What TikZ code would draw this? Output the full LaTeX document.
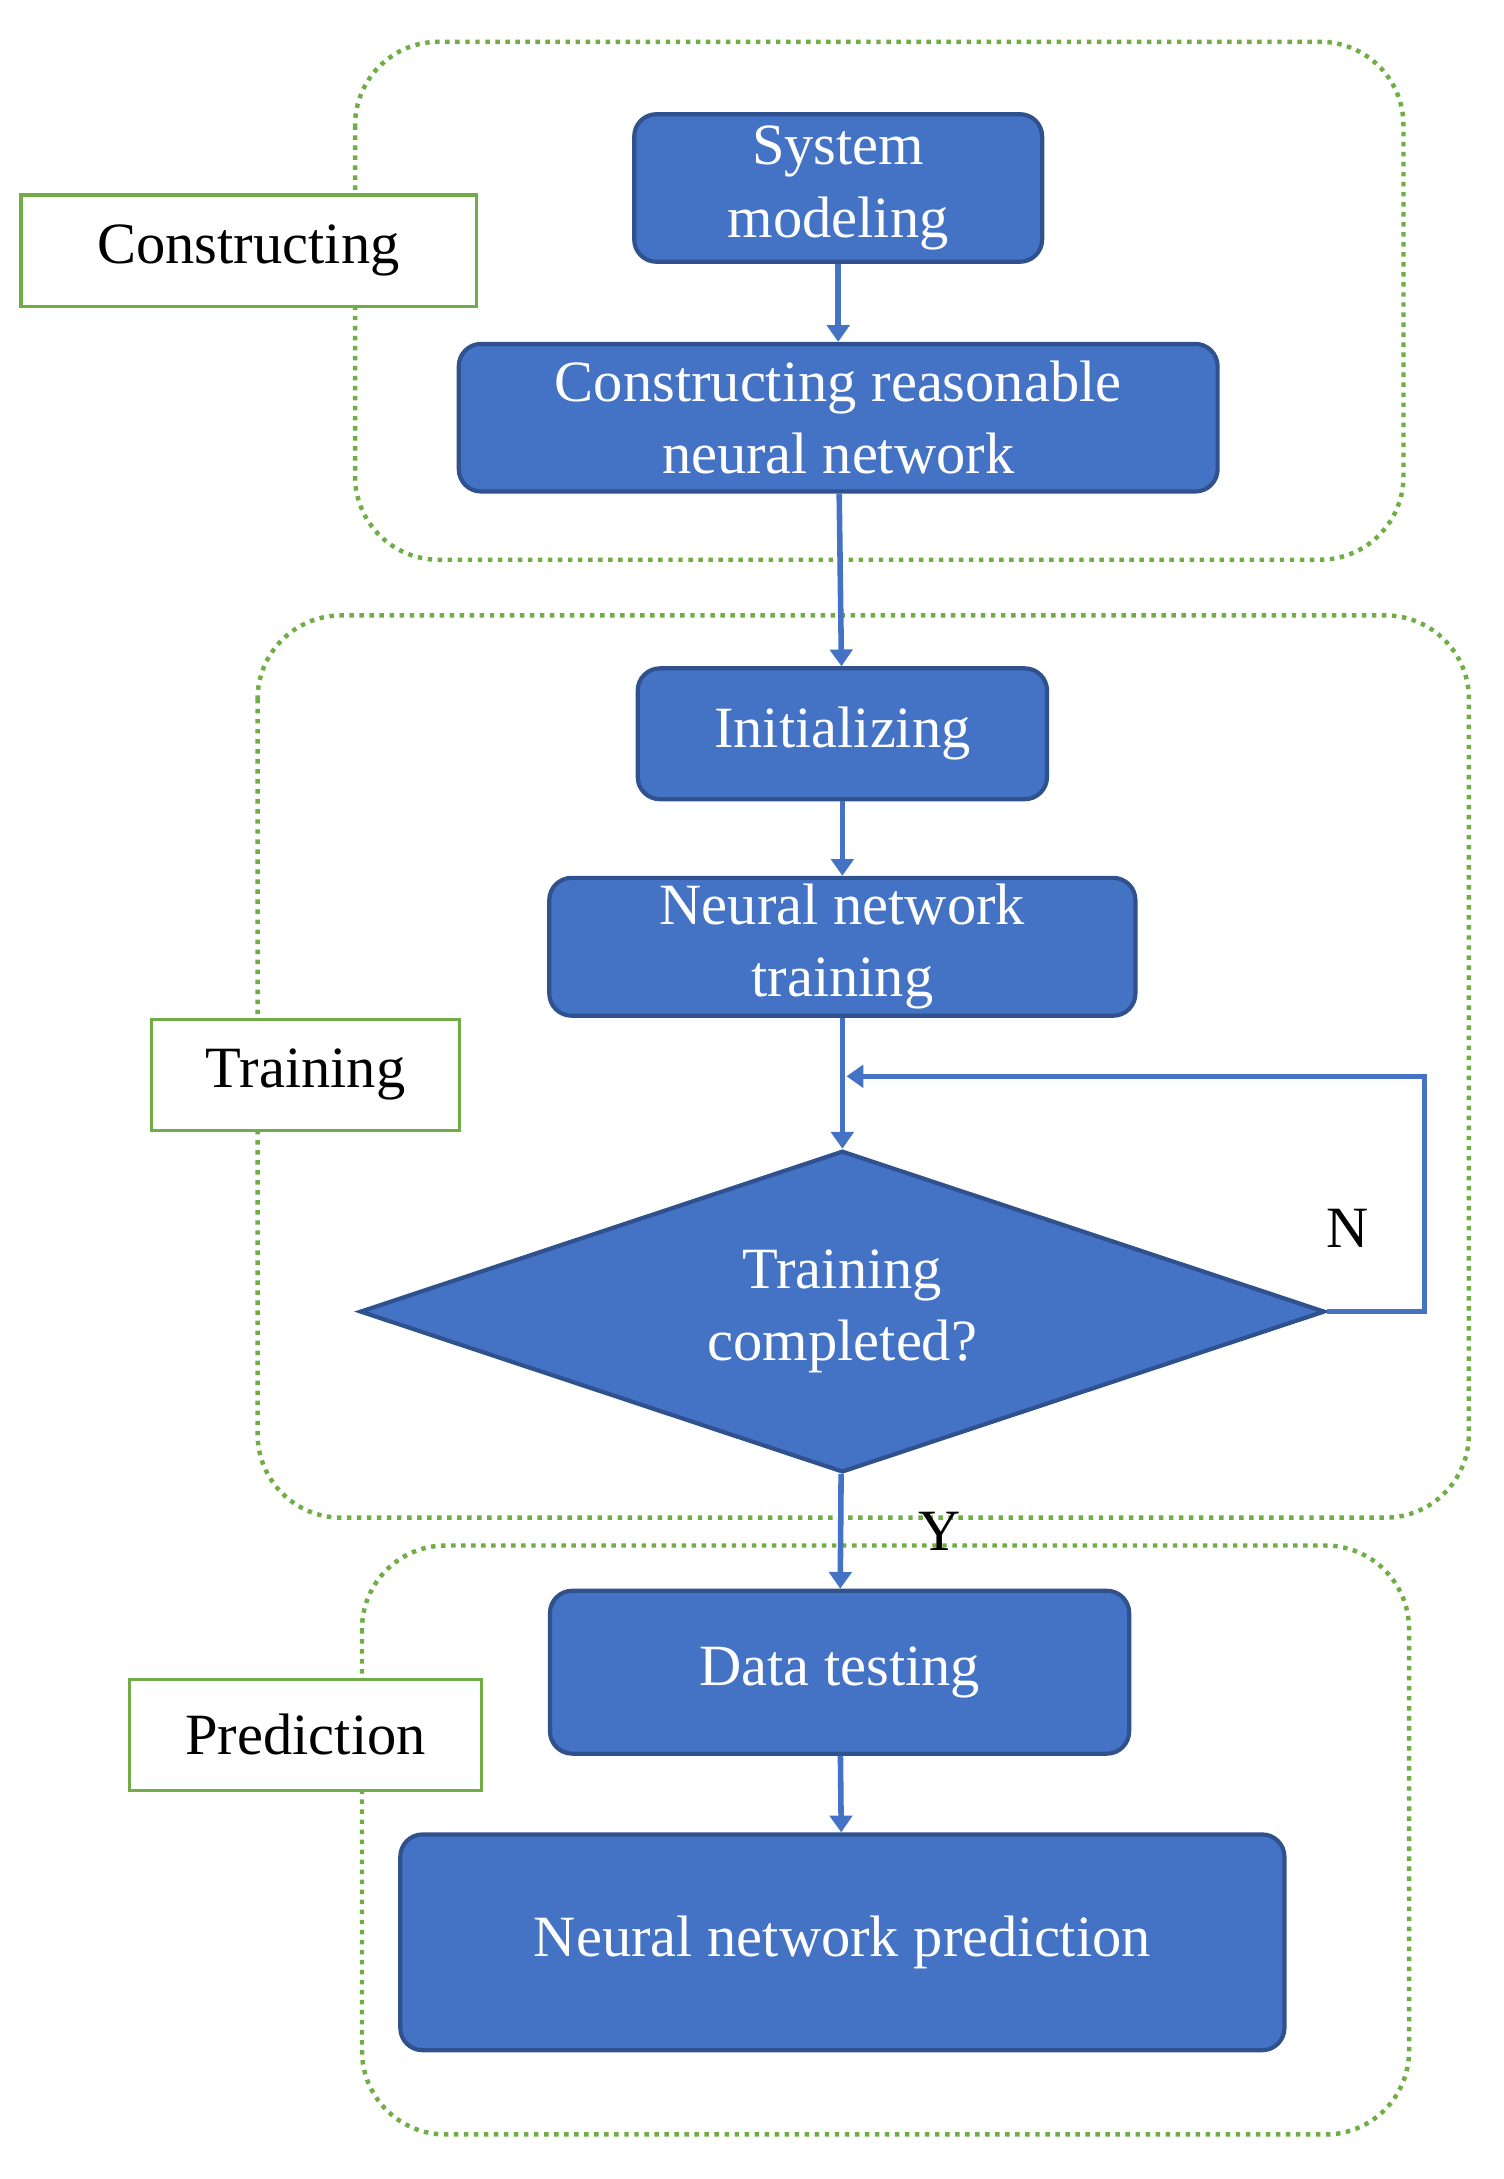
\documentclass[tikz,border=0pt]{standalone}
\usepackage{fontspec}
\setmainfont{Liberation Serif}
\usetikzlibrary{shapes.geometric,arrows.meta}
\definecolor{fillb}{HTML}{4472C4}
\definecolor{edgeb}{HTML}{2F528F}
\definecolor{grn}{HTML}{70AD47}
\begin{document}
\begin{tikzpicture}[x=0.5pt,y=-0.5pt,
 box/.style={draw=edgeb,line width=1.5pt,fill=fillb,rounded corners=8pt,text=white,font=\fontsize{21}{26}\selectfont,align=center,inner sep=0pt},
 grp/.style={draw=grn,line width=1.6pt,dotted,rounded corners=30pt},
 lab/.style={draw=grn,line width=1.2pt,fill=white,font=\fontsize{21}{26}\selectfont,inner sep=0pt},
 arr/.style={draw=fillb,line width=2pt,-{Triangle[length=6pt,width=8pt]}}]
\useasboundingbox (0,0) rectangle (1080,1565);
\draw[grp] (255,30) rectangle (1008,402);
\draw[grp] (185,442) rectangle (1055,1090);
\draw[grp] (260,1110) rectangle (1012,1533);
\node[lab,minimum width=163.5pt,minimum height=40pt] (l1) at (178.5,180) {Constructing};
\node[lab,minimum width=110.5pt,minimum height=40pt] (l2) at (219.5,772) {Training};
\node[lab,minimum width=126.5pt,minimum height=40pt] (l3) at (219.5,1246) {Prediction};
\node[box,minimum width=146.5pt,minimum height=53pt] (a) at (602,135) {System\\modeling};
\node[box,minimum width=272.5pt,minimum height=53pt] (b) at (602,300) {Constructing reasonable\\neural network};
\node[box,minimum width=147pt,minimum height=47pt] (c) at (605,527) {Initializing};
\node[box,minimum width=210.5pt,minimum height=49.5pt] (d) at (605,680) {Neural network\\training};
\node[diamond,draw=edgeb,line width=1.5pt,fill=fillb,text=white,font=\fontsize{21}{26}\selectfont,align=center,inner sep=0pt,minimum width=346.5pt,minimum height=115.5pt,aspect=3] (e) at (605,942) {Training\\completed?};
\node[box,minimum width=208pt,minimum height=58.5pt] (f) at (603,1201) {Data testing};
\node[box,minimum width=317.5pt,minimum height=77.5pt] (g) at (605,1395) {Neural network prediction};
\draw[arr] (a) -- (b);
\draw[arr] (b) -- (c);
\draw[arr] (c) -- (d);
\draw[arr] (d) -- (e);
\draw[arr] (e) -- (f);
\draw[arr] (f) -- (g);
\coordinate (m) at (608,773);
\draw[arr] (e.east) -- (1023,942) -- (1023,773) -- (m);
\node[font=\fontsize{21}{26}\selectfont] (n) at (968,882) {N};
\node[font=\fontsize{21}{26}\selectfont] (y) at (675,1100) {Y};
\end{tikzpicture}
\end{document}
